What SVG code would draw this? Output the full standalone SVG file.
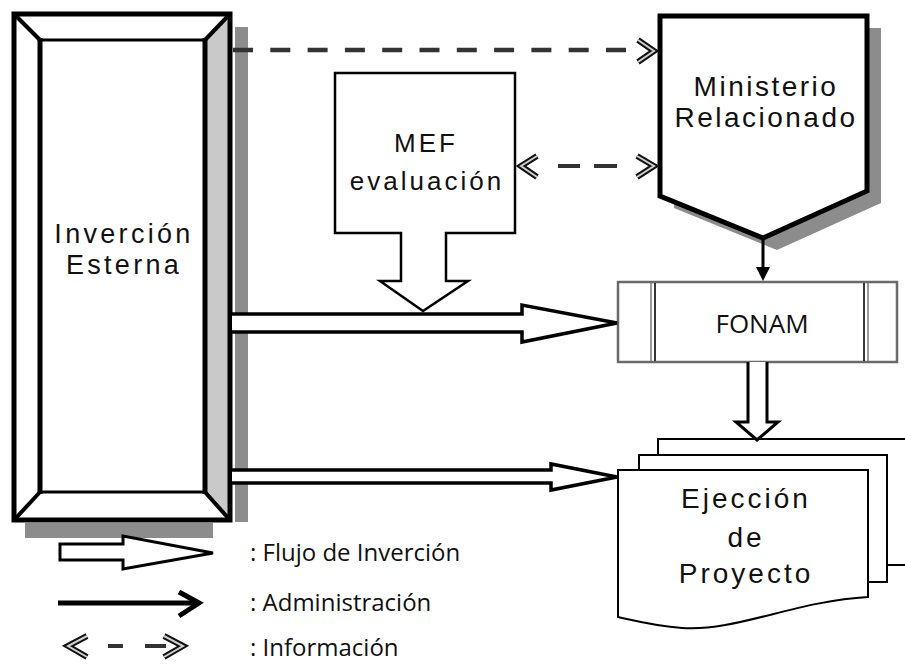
<svg xmlns="http://www.w3.org/2000/svg" width="905" height="671" viewBox="0 0 905 671">
<style>
.jp{font-family:"Liberation Sans","DejaVu Sans",sans-serif;fill:#111;text-anchor:middle}
.cal{font-family:"Open Sans","Liberation Sans",sans-serif;fill:#111}
.ol{fill:#fff;stroke:#000;stroke-linejoin:miter}
.shadow{fill:#8c8c8c}
.bevel{fill:#c9c9c9}
.dash{stroke:#333;stroke-width:4.5;fill:none}
.chevO{fill:none;stroke:#111;stroke-width:6;stroke-linejoin:miter;stroke-linecap:butt}
.chevI{fill:none;stroke:#cfcfcf;stroke-width:2;stroke-linejoin:miter}
</style>
<rect width="905" height="671" fill="#fff"/>

<g id="node-inversion">
  <rect class="shadow" x="235" y="27" width="13" height="495"/>
  <rect class="shadow" x="25" y="523" width="188" height="15"/>
  <rect x="12" y="12" width="220" height="510" fill="#fff"/>
  <polygon class="bevel" points="205,40 230,14 230,520 205,492"/>
  <rect x="14" y="14" width="216" height="506" fill="none" stroke="#000" stroke-width="5"/>
  <line x1="40" y1="40" x2="205" y2="40" stroke="#000" stroke-width="3"/>
  <line x1="40" y1="492" x2="205" y2="492" stroke="#000" stroke-width="3"/>
  <line x1="40" y1="38" x2="40" y2="494" stroke="#000" stroke-width="5"/>
  <line x1="205" y1="38" x2="205" y2="494" stroke="#000" stroke-width="5"/>
  <line x1="15" y1="15" x2="40" y2="40" stroke="#000" stroke-width="4"/>
  <line x1="229" y1="15" x2="205" y2="40" stroke="#000" stroke-width="4"/>
  <line x1="15" y1="519" x2="40" y2="492" stroke="#000" stroke-width="4"/>
  <line x1="229" y1="519" x2="205" y2="492" stroke="#000" stroke-width="4"/>
  <text class="jp" x="124" y="243" font-size="27" letter-spacing="3.3">Inverción</text>
  <text class="jp" x="124" y="274" font-size="27" letter-spacing="3.3">Esterna</text>
</g>

<g id="node-mef">
  <path class="ol" stroke-width="2.5" d="M335,73 H515 V233 H446 V281 H468 L423,311 L380,281 H401 V233 H335 Z"/>
  <text class="jp" x="426" y="152" font-size="26" letter-spacing="3">MEF</text>
  <text class="jp" x="427" y="190" font-size="26" letter-spacing="3">evaluación</text>
</g>

<g id="node-ministerio">
  <polygon class="shadow" points="674,28 881,28 881,203 777,250 674,208"/>
  <polygon class="ol" stroke-width="5" points="660,16 867,16 867,191 763,238 660,196"/>
  <text class="jp" x="766" y="96" font-size="28" letter-spacing="2.5">Ministerio</text>
  <text class="jp" x="766" y="127" font-size="28" letter-spacing="2.5">Relacionado</text>
</g>

<g id="node-fonam">
  <rect x="618" y="282" width="279" height="80" fill="#fff" stroke="#6a6a6a" stroke-width="2.5"/>
  <line x1="651" y1="283" x2="651" y2="361" stroke="#777" stroke-width="1.5"/>
  <line x1="655" y1="283" x2="655" y2="361" stroke="#222" stroke-width="1.8"/>
  <line x1="864" y1="283" x2="864" y2="361" stroke="#222" stroke-width="1.8"/>
  <line x1="868" y1="283" x2="868" y2="361" stroke="#777" stroke-width="1.5"/>
  <text class="cal" x="762" y="333" font-size="26" text-anchor="middle">FONAM</text>
</g>

<g id="node-ejeccion">
  <rect class="ol" stroke-width="2" x="658" y="439" width="260" height="126"/>
  <rect class="ol" stroke-width="2" x="639" y="455" width="248" height="127"/>
  <path class="ol" stroke-width="2" d="M618,470 H868 V597 C795,601 735,632 682,628 C655,626 632,620 618,617 Z"/>
  <text class="jp" x="746" y="508" font-size="28" letter-spacing="3">Ejección</text>
  <text class="jp" x="746" y="547" font-size="28" letter-spacing="3">de</text>
  <text class="jp" x="746" y="583" font-size="28" letter-spacing="3">Proyecto</text>
</g>

<g id="connectors">
  <line class="dash" x1="233" y1="50" x2="631" y2="50" stroke-dasharray="20 17.3"/>
  <polyline class="chevO" points="638,40 654,51 638,62"/>
  <polyline class="chevI" points="638,40 654,51 638,62"/>
  <line x1="558" y1="166" x2="580" y2="166" stroke="#333" stroke-width="4"/>
  <line x1="594" y1="166" x2="617" y2="166" stroke="#333" stroke-width="4"/>
  <polyline class="chevO" points="537,156 521,166 537,177"/>
  <polyline class="chevI" points="537,156 521,166 537,177"/>
  <polyline class="chevO" points="637,156 654,166 637,177"/>
  <polyline class="chevI" points="637,156 654,166 637,177"/>
  <line x1="763" y1="238" x2="763" y2="270" stroke="#000" stroke-width="3"/>
  <polygon points="756,267 770,267 763,281" fill="#000"/>
  <path class="ol" stroke-width="3" d="M748,362 V422 H736 L757,440 L778,422 H767 V362"/>
  <path class="ol" stroke-width="3.5" d="M232,314 H522 V305 L617,323 L522,342 V332 H232"/>
  <path class="ol" stroke-width="3.5" d="M232,470 H551 V464 L617,477 L551,490 V483 H232"/>
</g>

<g id="legend">
  <path class="ol" stroke-width="3" d="M60,544 H123 V536 L213,553 L123,569 V560 H60 Z"/>
  <line x1="58" y1="603" x2="196" y2="603" stroke="#000" stroke-width="5"/>
  <polyline points="179,592 199,603 179,616" fill="none" stroke="#000" stroke-width="5"/>
  <polyline class="chevO" points="87,636 68,646 87,657"/>
  <polyline class="chevI" points="87,636 68,646 87,657"/>
  <line x1="108" y1="646" x2="123" y2="646" stroke="#333" stroke-width="4"/>
  <line x1="145" y1="646" x2="166" y2="646" stroke="#333" stroke-width="4"/>
  <polyline class="chevO" points="164,636 183,646 164,657"/>
  <polyline class="chevI" points="164,636 183,646 164,657"/>
  <text class="cal" x="250" y="561" font-size="24">: Flujo de Inverción</text>
  <text class="cal" x="250" y="611" font-size="24">: Administración</text>
  <text class="cal" x="250" y="656" font-size="24">: Información</text>
</g>
</svg>
